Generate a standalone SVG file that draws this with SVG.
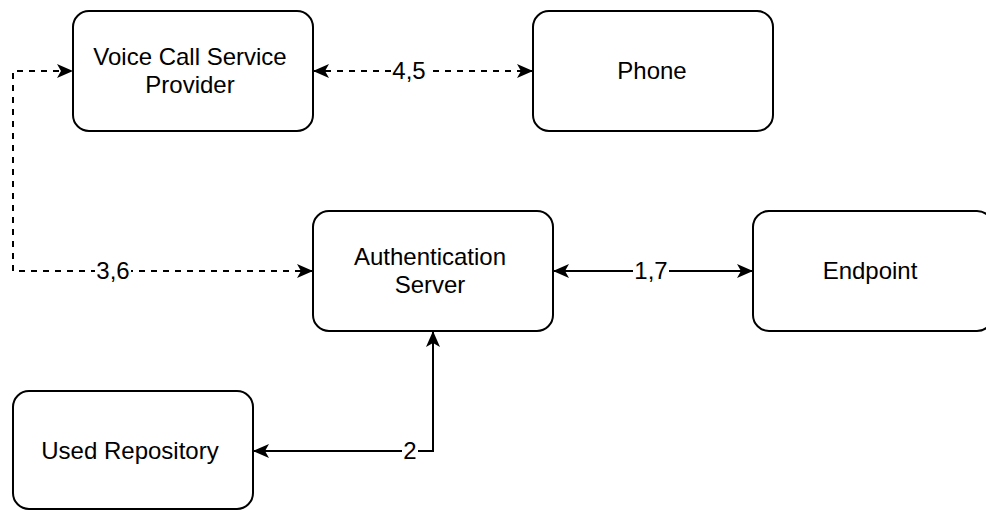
<svg xmlns="http://www.w3.org/2000/svg" width="986" height="510" viewBox="0 0 986 510">
<style>
.box{fill:#fff;stroke:#000;stroke-width:2}
.t{font-family:"Liberation Sans",Arial,sans-serif;font-size:24px;fill:#000;text-anchor:middle}
.e{fill:none;stroke:#000;stroke-width:2}
.d{stroke-dasharray:6 6}
.lb{fill:#fff}
</style>
<defs>
<marker id="arr" markerUnits="userSpaceOnUse" markerWidth="18" markerHeight="16" refX="16" refY="8" orient="auto-start-reverse">
<path d="M0,1 L16,8 L0,15 L4,8 Z" fill="#000" stroke="none"/>
</marker>
</defs>
<rect width="986" height="510" fill="#fff"/>
<g id="connectors">
<path class="e d" d="M313,71 H533" marker-start="url(#arr)" marker-end="url(#arr)"/>
<path class="e d" d="M313,271 H13 V71 H73" marker-start="url(#arr)" marker-end="url(#arr)"/>
<path class="e" d="M553,271 H753" marker-start="url(#arr)" marker-end="url(#arr)"/>
<path class="e" d="M433,331 V451 H253" marker-start="url(#arr)" marker-end="url(#arr)"/>
<rect class="lb" x="391" y="60" width="36" height="22"/>
<text class="t" x="409" y="79">4,5</text>
<rect class="lb" x="95" y="260" width="36" height="22"/>
<text class="t" x="113" y="279">3,6</text>
<rect class="lb" x="633" y="260" width="36" height="22"/>
<text class="t" x="651" y="279">1,7</text>
<rect class="lb" x="402" y="440" width="16" height="22"/>
<text class="t" x="410" y="459">2</text>
</g>
<g id="vcsp">
<rect class="box" x="73" y="11" width="240" height="120" rx="16"/>
<text class="t" x="190" y="65">Voice Call Service</text>
<text class="t" x="190" y="93">Provider</text>
</g>
<g id="phone">
<rect class="box" x="533" y="11" width="240" height="120" rx="16"/>
<text class="t" x="652" y="79">Phone</text>
</g>
<g id="auth">
<rect class="box" x="313" y="211" width="240" height="120" rx="16"/>
<text class="t" x="430" y="265">Authentication</text>
<text class="t" x="430" y="293">Server</text>
</g>
<g id="endpoint">
<rect class="box" x="753" y="211" width="240" height="120" rx="16"/>
<text class="t" x="870" y="279">Endpoint</text>
</g>
<g id="repo">
<rect class="box" x="13" y="391" width="240" height="118" rx="16"/>
<text class="t" x="130" y="459">Used Repository</text>
</g>
</svg>
